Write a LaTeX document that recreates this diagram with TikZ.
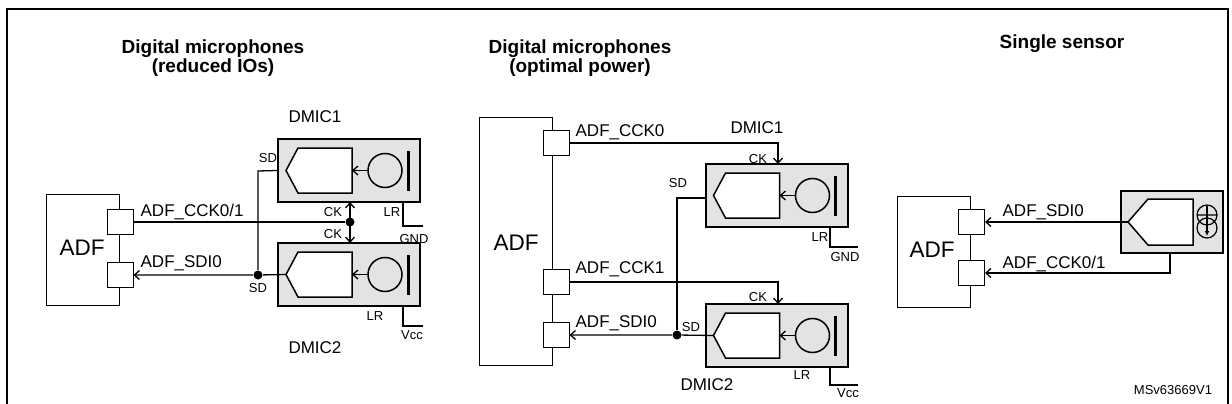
\documentclass[tikz,border=0pt]{standalone}
\usepackage{fontspec}
\setmainfont{Liberation Sans}
\usetikzlibrary{arrows.meta}
\newcommand\fsz[1]{\fontsize{#1}{#1}\selectfont}
\begin{document}
\begin{tikzpicture}[x=1pt,y=-1pt,line width=1.3pt,
  >={Straight Barb[length=5pt,width=9pt]},
  adf/.style={draw,line width=1pt,minimum width=73pt,minimum height=#1,inner sep=0},
  port/.style={draw,fill=white,line width=1pt,minimum width=26pt,minimum height=25pt,inner sep=0},
  micbox/.style={draw,fill=gray!22,line width=2pt,minimum width=142pt,minimum height=63pt,inner sep=0},
  title/.style={font=\fsz{19}\bfseries,align=center},
  lbl/.style={font=\fsz{17},anchor=base west,inner sep=0},
  sm/.style={font=\fsz{13},inner sep=0},
  big/.style={font=\fsz{22.5}},
  dot/.style={circle,fill,inner sep=0,minimum size=9pt},
  mic/.pic={
    \node[micbox] (-box) at (0,0) {};
    \draw[line width=1.5pt,fill=white] (-63,0)--(-51,-22.5)--(3,-22.5)--(3,22.5)--(-51,22.5)--cycle;
    \draw[line width=1.5pt] (36,0) circle (17);
    \draw[line width=1.3pt,->] (19,0)--(3,0);
    \draw[line width=3pt] (59,-20)--(59,20);
    \coordinate (-in) at (-63,0);
  }]
\useasboundingbox (0,0) rectangle (1232,404);
\draw[line width=2.5pt] (7,420) -- (7,9) -- (1228,9) -- (1228,420);

% ---------- Panel 1 ----------
\node[title] (t1) at (213,58) {Digital microphones\\(reduced IOs)};
\node[adf=111pt] (adf1) at (82.5,249.5) {};
\node[big] at (82,248) {ADF};
\node[port] (p11) at (120,222) {};
\node[port] (p12) at (120,275) {};
\pic (d11) at (349,170.5) {mic};
\pic (d12) at (349,274.5) {mic};
\node[sm] at (315,117) {\fsz{17}DMIC1};
\node[sm] at (315,348) {\fsz{17}DMIC2};
\node[dot] (j1) at (350,222) {};
\node[dot] (j2) at (258,275) {};
\coordinate (c1t) at (350,202);
\coordinate (c1b) at (350,243);
\coordinate (s1) at (258,171);
\draw (p11.east) -- (j1);
\draw[<->] (c1t) -- (c1b);
\draw[->] (d12-in) -- (j2) -- (p12.east);
\draw (d11-box.west) -- (s1) -- (j2);
\node[lbl] at (140,216) {ADF\_CCK0/1};
\node[lbl] at (140,267) {ADF\_SDI0};
\node[sm] at (268,158) {SD};
\node[sm] at (258,288) {SD};
\node[sm] at (333,212) {CK};
\node[sm] at (333,234) {CK};
\coordinate (g1a) at (403,202);
\coordinate (g1) at (423,226);
\draw (g1a) |- (g1);
\node[sm] at (392,212) {LR};
\node[sm] at (414,239) {GND};
\coordinate (v1a) at (403,306);
\coordinate (v1) at (423,326);
\draw (v1a) |- (v1);
\node[sm] at (375,316) {LR};
\node[sm] at (412,335) {Vcc};

% ---------- Panel 2 ----------
\node[title] (t2) at (580,58) {Digital microphones\\(optimal power)};
\node[adf=248pt] (adf2) at (516,241) {};
\node[big] at (516,243) {ADF};
\node[port] (p21) at (556,143) {};
\node[port] (p22) at (556,282) {};
\node[port] (p23) at (556,335) {};
\pic (d21) at (776.5,195.5) {mic};
\pic (d22) at (776.5,335.5) {mic};
\node[sm] at (757,128) {\fsz{17}DMIC1};
\node[sm] at (707,385) {\fsz{17}DMIC2};
\coordinate (k1) at (778,143);
\coordinate (k1b) at (778,164);
\coordinate (k2) at (778,282);
\coordinate (k2b) at (778,304);
\draw[->] (p21.east) -- (k1) -- (k1b);
\draw[->] (p22.east) -- (k2) -- (k2b);
\node[dot] (j3) at (677,335) {};
\coordinate (s2a) at (706,198);
\coordinate (s2) at (677,198);
\draw[->] (d22-in) -- (j3) -- (p23.east);
\draw (s2a) -- (s2) -- (j3);
\node[lbl] at (575,136) {ADF\_CCK0};
\node[lbl] at (575,273) {ADF\_CCK1};
\node[lbl] at (575,327) {ADF\_SDI0};
\node[sm] at (678,183) {SD};
\node[sm] at (691,327) {SD};
\node[sm] at (758,159) {CK};
\node[sm] at (758,297) {CK};
\coordinate (g2a) at (830,227);
\coordinate (g2) at (858,247);
\draw (g2a) |- (g2);
\node[sm] at (820,237) {LR};
\node[sm] at (845,257) {GND};
\coordinate (v2a) at (830,367);
\coordinate (v2) at (858,385);
\draw (v2a) |- (v2);
\node[sm] at (802,375) {LR};
\node[sm] at (848,393) {Vcc};

% ---------- Panel 3 ----------
\node[title] (t3) at (1062,44) {Single sensor};
\node[adf=111pt] (adf3) at (933.5,251.5) {};
\node[big] at (932,250) {ADF};
\node[port] (p31) at (971.5,222) {};
\node[port] (p32) at (971.5,273) {};
\node[draw,fill=gray!22,line width=2pt,minimum width=102pt,minimum height=62pt,inner sep=0] (sen) at (1172,222) {};
\draw[line width=1.5pt,fill=white] (1128,222)--(1148,199)--(1193,199)--(1193,245)--(1148,245)--cycle;
\coordinate (sin) at (1128,222);
\draw[line width=1.2pt] (1207,215) circle (10) (1207,228) circle (10) (1197,215)--(1217,215);
\draw[line width=1.2pt,-{Latex[length=5pt,width=5pt]}] (1207,206)--(1207,236);
\coordinate (ck3a) at (1170,253);
\coordinate (ck3) at (1170,273);
\draw[->] (sin) -- (p31.east);
\draw[->] (ck3a) -- (ck3) -- (p32.east);
\node[lbl] at (1002,216) {ADF\_SDI0};
\node[lbl] at (1002,268) {ADF\_CCK0/1};
\node[sm] at (1173,390) {MSv63669V1};
\end{tikzpicture}
\end{document}
